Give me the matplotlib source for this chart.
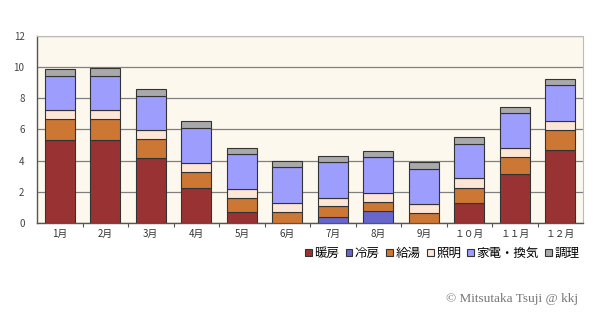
import numpy as np
import matplotlib
matplotlib.use('Agg')
import matplotlib.pyplot as plt
from matplotlib.patches import Patch

plt.rcParams['font.family'] = ['Noto Sans CJK JP', 'DejaVu Sans']

# ── Monthly household energy use by purpose ───────────────────────
months = ['1月', '2月', '3月', '4月', '5月', '6月',
          '7月', '8月', '9月', '１０月', '１１月', '１２月']

heating   = [5.30, 5.30, 4.15, 2.26, 0.73, 0.00, 0.00, 0.00, 0.00, 1.26, 3.12, 4.70]
cooling   = [0.00, 0.00, 0.00, 0.00, 0.00, 0.00, 0.40, 0.77, 0.00, 0.00, 0.00, 0.00]
hot_water = [1.35, 1.35, 1.23, 0.99, 0.89, 0.73, 0.67, 0.60, 0.62, 0.98, 1.13, 1.24]
lighting  = [0.57, 0.57, 0.56, 0.62, 0.58, 0.55, 0.55, 0.55, 0.60, 0.62, 0.58, 0.60]
appliance = [2.22, 2.22, 2.24, 2.24, 2.22, 2.29, 2.27, 2.29, 2.24, 2.18, 2.24, 2.29]
cooking   = [0.41, 0.48, 0.43, 0.43, 0.41, 0.38, 0.39, 0.39, 0.45, 0.45, 0.39, 0.38]

series = [
    ('暖房', heating, '#993333'),
    ('冷房', cooling, '#6666cc'),
    ('給湯', hot_water, '#cc7733'),
    ('照明', lighting, '#fde6d6'),
    ('家電・換気', appliance, '#9d9dfd'),
    ('調理', cooking, '#a9a9a9'),
]

fig = plt.figure(figsize=(6.0, 3.26), dpi=100)
ax = fig.add_axes([0.0617, 0.316, 0.91, 0.5736])
ax.set_facecolor('#fdf8ee')

x = np.arange(len(months))
bottom = np.zeros(len(months))
for name, vals, col in series:
    vals = np.array(vals)
    ax.bar(x, vals, width=0.66, bottom=bottom, color=col,
           edgecolor='#333333', linewidth=0.8, label=name, zorder=3)
    bottom += vals

ax.set_xlim(-0.5, len(months) - 0.5)
ax.set_ylim(0, 12)
ax.set_yticks(range(0, 13, 2))
ax.yaxis.grid(True, color='#7f7f7f', linewidth=0.9, zorder=0)
ax.tick_params(axis='y', length=0, labelsize=7, labelcolor='#444444', pad=9)

# month labels centred, small ticks between categories
ax.set_xticks(x)
ax.set_xticklabels(months, fontsize=7, color='#333333')
ax.tick_params(axis='x', length=0, pad=4)
ax.set_xticks(np.arange(0.5, len(months) - 0.5, 1), minor=True)
ax.tick_params(axis='x', which='minor', length=3, direction='out',
               color='#555555', width=0.8)

for side in ['top', 'right']:
    ax.spines[side].set_color('#bbbbbb')
for side in ['left', 'bottom']:
    ax.spines[side].set_color('#555555')
    ax.spines[side].set_linewidth(1.0)

handles = [Patch(facecolor=col, edgecolor='#333333', linewidth=0.8, label=name)
           for name, _, col in series]
fig.legend(handles=handles, loc='center right', bbox_to_anchor=(0.985, 0.222),
           ncol=6, frameon=False, fontsize=9, handlelength=0.55,
           handleheight=0.55, handletextpad=0.2, columnspacing=0.5)

fig.text(0.963, 0.083, '© Mitsutaka Tsuji @ kkj', ha='right', va='center',
         fontsize=9.5, color='#777777', family='Liberation Serif')

fig.savefig('out.png', dpi=100)
